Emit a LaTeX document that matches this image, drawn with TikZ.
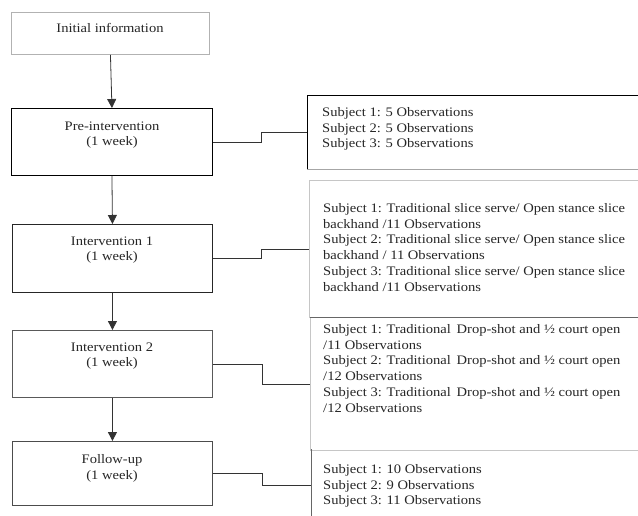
\documentclass[tikz,border=0pt]{standalone}
\usepackage{fontspec}
\setmainfont{Liberation Serif}[FakeStretch=1.12]
\usetikzlibrary{arrows.meta}
\begin{document}
\begin{tikzpicture}[x=1pt,y=-1pt,
  every node/.style={font=\fontsize{13}{15.8}\selectfont, inner sep=0pt},
  lbox/.style={draw, line width=0.9pt, anchor=north west},
  ltext/.style={align=center, text=black!85},
  rtext/.style={align=left, anchor=north west, text=black!85},
  conn/.style={line width=0.8pt, draw=black!80},
  arr/.style={line width=0.8pt, draw=black!80, -{Triangle[length=9pt,width=9pt]}}]
\useasboundingbox (0,0) rectangle (638,516);
\clip (0,0) rectangle (638,516);
\fill[white] (0,0) rectangle (638,516);

% left boxes
\node[lbox, draw=gray!60, minimum width=198pt, minimum height=42pt] (init) at (11,12) {};
\node[ltext] (initt) at (110,28) {Initial information};
\node[lbox, draw=black, minimum width=201pt, minimum height=67pt] (pre) at (11,108) {};
\node[ltext] (pret) at (112,135) {Pre-intervention\\(1 week)};
\node[lbox, draw=black!85, minimum width=200pt, minimum height=68pt] (int1) at (12,224) {};
\node[ltext] (int1t) at (112,250) {Intervention 1\\(1 week)};
\node[lbox, draw=black!65, minimum width=200pt, minimum height=67pt] (int2) at (12,330) {};
\node[ltext] (int2t) at (112,356) {Intervention 2\\(1 week)};
\node[lbox, draw=black!70, minimum width=200pt, minimum height=64pt] (fol) at (12,441) {};
\node[ltext] (folt) at (112,468) {Follow-up\\(1 week)};

% right boxes
\node[lbox, draw=black, line width=0.8pt, minimum width=338pt, minimum height=74pt] (r1) at (307,95) {};
\draw[gray!70, line width=0.9pt] (r1.south west) -- (r1.south east);
\node[lbox, draw=gray!45, line width=0.9pt, minimum width=336pt, minimum height=137pt] (r2) at (309,180) {};
\node[lbox, draw=gray!45, line width=0.9pt, minimum width=335pt, minimum height=133pt] (r3) at (310,317) {};
\draw[black!60, line width=0.9pt] (r3.north west) -- (r3.north east);
\node[anchor=north west, minimum width=335pt, minimum height=72pt] (r4) at (311,449) {};
\draw[black!60, line width=0.9pt] (r4.north west) -- (r4.south west);

\node[rtext] (r1t) at (322,107) {Subject 1: 5 Observations\\Subject 2: 5 Observations\\Subject 3: 5 Observations};
\node[rtext] (r2t) at (323,203) {Subject 1: Traditional slice serve/ Open stance slice\\backhand /11 Observations\\Subject 2: Traditional slice serve/ Open stance slice\\backhand / 11 Observations\\Subject 3: Traditional slice serve/ Open stance slice\\backhand /11 Observations};
\node[rtext] (r3t) at (323,324) {Subject 1: Traditional\, Drop-shot and ½ court open\\/11 Observations\\Subject 2: Traditional\, Drop-shot and ½ court open\\/12 Observations\\Subject 3: Traditional\, Drop-shot and ½ court open\\/12 Observations};
\node[rtext] (r4t) at (323,464) {Subject 1: 10 Observations\\Subject 2: 9 Observations\\Subject 3: 11 Observations};

% arrows
\draw[arr] (init.south) -- (pre.north);
\draw[arr] (pre.south) -- (int1.north);
\draw[arr] (int1.south) -- (int2.north);
\draw[arr] (int2.south) -- (fol.north);

% connectors
\draw[conn] (pre.east) -- ++(48,0) |- (r1.west);
\draw[conn] (int1.east) -- ++(48,0) |- (r2.west);
\draw[conn] (int2.east) -- ++(49,0) |- (r3.west);
\draw[conn] (fol.east) -- ++(49,0) |- (r4.west);
\end{tikzpicture}
\end{document}
